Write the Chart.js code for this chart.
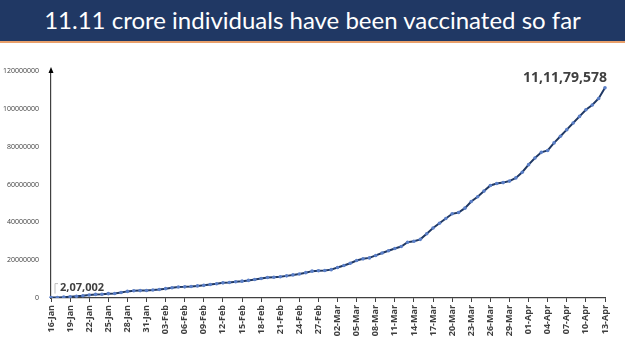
<!DOCTYPE html>
<html>
<head>
<meta charset="utf-8">
<script src="https://cdn.jsdelivr.net/npm/chart.js@4"></script>
<style>
  html, body { margin: 0; padding: 0; background: #fff; }
  .banner {
    width: 625px; height: 41px; background: #203864;
    border-bottom: 2px solid #e9a06b;
    color: #fff; font-family: 'Lato', 'Open Sans', sans-serif;
    font-size: 24px; line-height: 40px; text-align: center;
  }
  .wrap { position: relative; width: 625px; height: 308px; }
</style>
</head>
<body>
<div class="banner">11.11 crore individuals have been vaccinated so far</div>
<div class="wrap"><canvas id="chart"></canvas></div>
<script>
// ─── DATA ────────────────────────────────────────────────────────────────
const dates = [
  '16-Jan','17-Jan','18-Jan','19-Jan','20-Jan','21-Jan','22-Jan','23-Jan','24-Jan','25-Jan','26-Jan','27-Jan','28-Jan','29-Jan','30-Jan','31-Jan',
  '01-Feb','02-Feb','03-Feb','04-Feb','05-Feb','06-Feb','07-Feb','08-Feb','09-Feb','10-Feb','11-Feb','12-Feb','13-Feb','14-Feb',
  '15-Feb','16-Feb','17-Feb','18-Feb','19-Feb','20-Feb','21-Feb','22-Feb','23-Feb','24-Feb','25-Feb','26-Feb','27-Feb','28-Feb',
  '01-Mar','02-Mar','03-Mar','04-Mar','05-Mar','06-Mar','07-Mar','08-Mar','09-Mar','10-Mar','11-Mar','12-Mar','13-Mar','14-Mar','15-Mar','16-Mar',
  '17-Mar','18-Mar','19-Mar','20-Mar','21-Mar','22-Mar','23-Mar','24-Mar','25-Mar','26-Mar','27-Mar','28-Mar','29-Mar','30-Mar','31-Mar',
  '01-Apr','02-Apr','03-Apr','04-Apr','05-Apr','06-Apr','07-Apr','08-Apr','09-Apr','10-Apr','11-Apr','12-Apr','13-Apr'
];

const vaccinated = [
  207002, 230000, 450000, 700000, 950000, 1200000, 1600000, 1900000, 2000000, 2300000, 2400000, 2900000, 3500000, 3800000, 3900000, 4000000,
  4200000, 4500000, 4950000, 5400000, 5800000, 5900000, 6100000, 6400000, 6700000, 7100000, 7500000, 8000000, 8200000, 8600000,
  8900000, 9300000, 9800000, 10300000, 10800000, 11000000, 11200000, 11700000, 12200000, 12700000, 13400000, 14200000, 14400000, 14500000,
  15000000, 16100000, 17200000, 18400000, 19800000, 20700000, 21200000, 22500000, 23800000, 25000000, 26200000, 27200000, 29500000, 30000000, 31000000, 34000000,
  37000000, 39500000, 42000000, 44500000, 45200000, 47500000, 51000000, 53500000, 56500000, 59500000, 60500000, 61000000, 61800000, 63500000, 66500000,
  70500000, 74000000, 77000000, 78000000, 82000000, 85500000, 89000000, 92500000, 96000000, 99500000, 102000000, 105500000, 111179578
];

const yTicks = [0, 20000000, 40000000, 60000000, 80000000, 100000000, 120000000];

// ─── HELPERS ─────────────────────────────────────────────────────────────
// agrupamento indiano: 11,11,79,578
function fmtIN(n) {
  const s = String(Math.round(n));
  if (s.length <= 3) return s;
  const last3 = s.slice(-3);
  const rest  = s.slice(0, -3).replace(/\B(?=(\d{2})+(?!\d))/g, ',');
  return rest + ',' + last3;
}

// seta no topo do eixo Y + rótulos do primeiro e último ponto
const extras = {
  id: 'extras',
  afterDatasetsDraw(chart) {
    const { ctx, chartArea } = chart;
    const meta = chart.getDatasetMeta(0);
    const first = meta.data[0];
    const last  = meta.data[meta.data.length - 1];

    ctx.save();
    // seta
    ctx.fillStyle = '#000';
    ctx.beginPath();
    ctx.moveTo(chartArea.left, chartArea.top - 4);
    ctx.lineTo(chartArea.left - 2.5, chartArea.top + 2);
    ctx.lineTo(chartArea.left + 2.5, chartArea.top + 2);
    ctx.closePath();
    ctx.fill();

    // rótulo inicial com linha guia
    ctx.strokeStyle = '#bfbfbf';
    ctx.lineWidth = 1;
    ctx.beginPath();
    ctx.moveTo(first.x + 4, first.y - 4);
    ctx.lineTo(first.x + 4, first.y - 14);
    ctx.lineTo(first.x + 7, first.y - 14);
    ctx.stroke();
    ctx.fillStyle = '#404040';
    ctx.font = 'bold 11px "Open Sans", sans-serif';
    ctx.textAlign = 'left';
    ctx.textBaseline = 'middle';
    ctx.fillText(fmtIN(vaccinated[0]), first.x + 9, first.y - 10);

    // rótulo final
    ctx.font = 'bold 14px "Open Sans", sans-serif';
    ctx.textAlign = 'right';
    ctx.textBaseline = 'bottom';
    ctx.fillText(fmtIN(vaccinated[vaccinated.length - 1]), last.x + 2, last.y - 3);
    ctx.restore();
  }
};

// ─── CHART ───────────────────────────────────────────────────────────────
new Chart(document.getElementById('chart'), {
  type: 'line',
  data: {
    labels: dates,
    datasets: [{
      data: vaccinated,
      borderColor: '#1f3864',
      borderWidth: 2,
      pointRadius: 1.8,
      pointBackgroundColor: '#5b7fc7',
      pointBorderColor: '#5b7fc7',
      pointBorderWidth: 0,
      tension: 0,
    }],
  },
  options: {
    responsive: true,
    maintainAspectRatio: false,
    animation: false,
    layout: { padding: { top: 28, right: 20, left: 0, bottom: 0 } },
    plugins: { legend: { display: false }, tooltip: { enabled: false } },
    scales: {
      x: {
        offset: false,
        border: { color: '#404040', width: 1.2 },
        grid: { drawOnChartArea: false, drawTicks: true, tickLength: 4, color: '#404040' },
        ticks: {
          autoSkip: false, maxRotation: 90, minRotation: 90,
          color: '#404040', padding: 3,
          font: { family: 'Open Sans', size: 9, weight: 'bold' },
          callback: (v, i) => i % 3 === 0 ? dates[i] : null,
        },
        afterFit: s => { s.height = 53; },
      },
      y: {
        min: 0, max: 120000000,
        afterBuildTicks: s => { s.ticks = yTicks.map(v => ({ value: v })); },
        border: { color: '#404040', width: 1.2 },
        grid: { display: false },
        ticks: {
          color: '#404040', padding: 4,
          font: { family: 'Open Sans', size: 7 },
          callback: v => String(v),
        },
        afterFit: s => { s.width = 51; },
      },
    },
  },
  plugins: [extras],
});
</script>
</body>
</html>
